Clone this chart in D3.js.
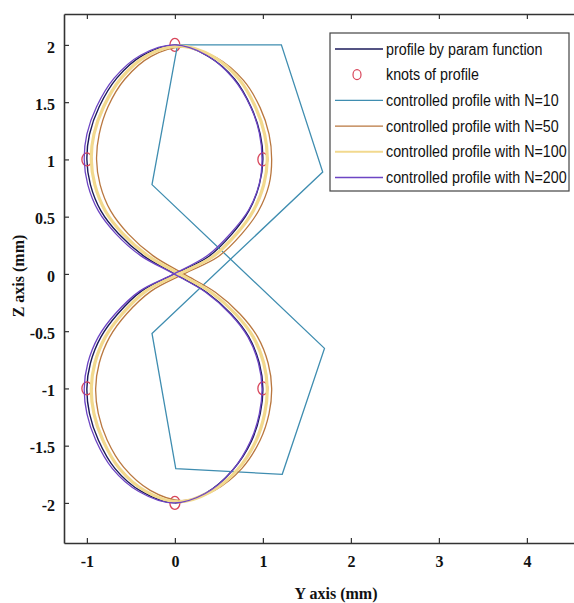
<!DOCTYPE html>
<html>
<head>
<meta charset="utf-8">
<script src="https://cdn.jsdelivr.net/npm/d3@7"></script>
<style>
  html, body { margin: 0; padding: 0; background: #fff; }
  svg { display: block; }
</style>
</head>
<body>
<svg id="chart" width="574" height="603"></svg>
<script>
// ---------------- DATA ----------------
const xTicks = [-1, 0, 1, 2, 3, 4];
const yTicks = [-2, -1.5, -1, -0.5, 0, 0.5, 1, 1.5, 2];
const xDomain = [-1.26, 4.615];
const yDomain = [-2.35, 2.27];

const seriesNames = [
  "profile by param function",
  "knots of profile",
  "controlled profile with N=10",
  "controlled profile with N=50",
  "controlled profile with N=100",
  "controlled profile with N=200"
];

// [Y, Z] pairs
const profile = [
  [0,0],[0.38,0.15],[0.65,0.35],[0.84,0.55],[0.96,0.78],[1.0,1.0],[0.97,1.22],[0.87,1.45],[0.68,1.70],[0.38,1.90],[0.02,2.0],
  [-0.36,1.91],[-0.66,1.71],[-0.86,1.46],[-0.97,1.22],[-1.0,1.0],[-0.96,0.78],[-0.84,0.55],[-0.64,0.35],[-0.36,0.16],
  [0,0],[0.36,-0.16],[0.64,-0.35],[0.84,-0.55],[0.96,-0.78],[1.0,-1.0],[0.97,-1.22],[0.87,-1.46],[0.66,-1.71],[0.36,-1.91],[0.0,-2.0],
  [-0.38,-1.90],[-0.68,-1.70],[-0.87,-1.45],[-0.97,-1.22],[-1.0,-1.0],[-0.96,-0.78],[-0.84,-0.55],[-0.65,-0.35],[-0.38,-0.15]
];

const knotsY = [0, 1, -1, -1, 1, 0];
const knotsZ = [2, 1, 1, -1, -1, -2];

const ctrlN10 = [
  [0.03,2.0],[1.21,2.0],[1.68,0.89],[-0.26,-0.52],[0.01,-1.70],[1.22,-1.75],[1.70,-0.65],[-0.26,0.78]
];

const ctrlN50 = [
  [0.10,0.0],[0.49,0.15],[0.76,0.35],[0.95,0.55],[1.07,0.78],[1.10,1.0],[1.07,1.22],[0.97,1.45],[0.78,1.69],[0.47,1.89],[0.10,1.98],
  [-0.27,1.90],[-0.57,1.70],[-0.76,1.46],[-0.86,1.22],[-0.89,1.0],[-0.85,0.78],[-0.73,0.55],[-0.53,0.35],[-0.25,0.16],
  [0.10,0.0],[0.46,-0.16],[0.74,-0.35],[0.94,-0.55],[1.06,-0.78],[1.10,-1.0],[1.07,-1.22],[0.97,-1.45],[0.76,-1.70],[0.45,-1.89],[0.08,-1.98],
  [-0.28,-1.89],[-0.58,-1.69],[-0.77,-1.45],[-0.87,-1.22],[-0.90,-1.0],[-0.86,-0.78],[-0.74,-0.55],[-0.55,-0.35],[-0.27,-0.15]
];

const ctrlN100 = [
  [0.05,0.0],[0.43,0.15],[0.70,0.35],[0.89,0.55],[1.01,0.78],[1.05,1.0],[1.02,1.22],[0.92,1.45],[0.73,1.70],[0.43,1.90],[0.06,1.99],
  [-0.31,1.91],[-0.61,1.71],[-0.81,1.46],[-0.92,1.22],[-0.95,1.0],[-0.91,0.78],[-0.79,0.55],[-0.59,0.35],[-0.31,0.16],
  [0.05,0.0],[0.41,-0.16],[0.69,-0.35],[0.89,-0.55],[1.01,-0.78],[1.05,-1.0],[1.02,-1.22],[0.92,-1.46],[0.71,-1.71],[0.41,-1.90],[0.04,-1.99],
  [-0.33,-1.90],[-0.63,-1.70],[-0.82,-1.45],[-0.92,-1.22],[-0.95,-1.0],[-0.91,-0.78],[-0.79,-0.55],[-0.60,-0.35],[-0.33,-0.15]
];

const ctrlN200 = [
  [-0.01,0.0],[0.37,0.16],[0.64,0.36],[0.84,0.56],[0.96,0.79],[0.99,1.0],[0.96,1.23],[0.86,1.46],[0.66,1.71],[0.36,1.91],[0.0,2.0],
  [-0.39,1.91],[-0.69,1.71],[-0.89,1.46],[-1.0,1.22],[-1.03,1.0],[-0.99,0.78],[-0.87,0.55],[-0.67,0.35],[-0.39,0.16],
  [-0.01,0.0],[0.35,-0.16],[0.63,-0.35],[0.83,-0.55],[0.95,-0.78],[0.99,-1.0],[0.96,-1.22],[0.86,-1.46],[0.65,-1.72],[0.34,-1.92],[-0.02,-2.0],
  [-0.41,-1.90],[-0.71,-1.70],[-0.90,-1.45],[-1.0,-1.22],[-1.03,-1.0],[-0.99,-0.78],[-0.87,-0.55],[-0.68,-0.35],[-0.40,-0.15]
];

const colors = {
  profile: "#1b1a5a",
  knots: "#d8455a",
  n10: "#3f8db0",
  n50: "#b9773f",
  n100: "#f2d98e",
  n200: "#6d45c4"
};

// ---------------- CHART ----------------
const svg = d3.select("#chart");
const plot = { left: 64, right: 581, top: 14, bottom: 543 };

const x = d3.scaleLinear().domain(xDomain).range([plot.left, plot.right]);
const y = d3.scaleLinear().domain(yDomain).range([plot.bottom, plot.top]);

const serif = "'Liberation Serif', 'Times New Roman', serif";
const sans = "'Liberation Sans', Arial, sans-serif";

// curves
const smooth = d3.line().x(d => x(d[0])).y(d => y(d[1])).curve(d3.curveCatmullRomClosed.alpha(0.5));
const poly = d3.line().x(d => x(d[0])).y(d => y(d[1])).curve(d3.curveLinearClosed);

const g = svg.append("g");

g.append("path").attr("d", smooth(profile)).attr("fill", "none")
  .attr("stroke", colors.profile).attr("stroke-width", 1.4);

g.selectAll("ellipse.knot").data(knotsY.map((v, i) => [v, knotsZ[i]])).enter()
  .append("ellipse").attr("class", "knot")
  .attr("cx", d => x(d[0])).attr("cy", d => y(d[1]))
  .attr("rx", 5).attr("ry", 6.5)
  .attr("fill", "none").attr("stroke", colors.knots).attr("stroke-width", 1.3);

g.append("path").attr("d", poly(ctrlN10)).attr("fill", "none")
  .attr("stroke", colors.n10).attr("stroke-width", 1.3);

g.append("path").attr("d", smooth(ctrlN50)).attr("fill", "none")
  .attr("stroke", colors.n50).attr("stroke-width", 1.3);

g.append("path").attr("d", smooth(ctrlN100)).attr("fill", "none")
  .attr("stroke", colors.n100).attr("stroke-width", 3.2);

g.append("path").attr("d", smooth(ctrlN200)).attr("fill", "none")
  .attr("stroke", colors.n200).attr("stroke-width", 1.3);

// axes
const fmt = d => String(d);
const axB = svg.append("g").attr("transform", `translate(0,${plot.bottom})`)
  .call(d3.axisBottom(x).tickValues(xTicks).tickFormat(fmt).tickSizeInner(-5).tickSizeOuter(0).tickPadding(13));
const axT = svg.append("g").attr("transform", `translate(0,${plot.top})`)
  .call(d3.axisTop(x).tickValues(xTicks).tickFormat("").tickSizeInner(-5).tickSizeOuter(0));
const axL = svg.append("g").attr("transform", `translate(${plot.left},0)`)
  .call(d3.axisLeft(y).tickValues(yTicks).tickFormat(fmt).tickSizeInner(-5).tickSizeOuter(0).tickPadding(9));

[axB, axT, axL].forEach(a => {
  a.select(".domain").attr("stroke", "#333").attr("stroke-width", 1.6);
  a.selectAll(".tick line").attr("stroke", "#333").attr("stroke-width", 1.2);
  a.selectAll(".tick text").attr("fill", "#111")
    .style("font-family", serif).style("font-weight", "bold").style("font-size", "16px");
});
axL.selectAll(".tick text").attr("dy", "0.45em");

// axis titles
svg.append("text").attr("x", 336).attr("y", 599).attr("text-anchor", "middle")
  .style("font-family", serif).style("font-weight", "bold").style("font-size", "16px").attr("fill", "#111")
  .text("Y axis (mm)");
svg.append("text").attr("transform", "translate(24,276) rotate(-90)").attr("text-anchor", "middle")
  .style("font-family", serif).style("font-weight", "bold").style("font-size", "16px").attr("fill", "#111")
  .text("Z axis (mm)");

// legend
const leg = svg.append("g");
leg.append("rect").attr("x", 330).attr("y", 33).attr("width", 239).attr("height", 158)
  .attr("fill", "#fff").attr("stroke", "#444").attr("stroke-width", 1.2);
const legColors = [colors.profile, colors.knots, colors.n10, colors.n50, colors.n100, colors.n200];
seriesNames.forEach((name, i) => {
  const cy = 49 + i * 25.7;
  if (i === 1) {
    leg.append("ellipse").attr("cx", 357).attr("cy", cy).attr("rx", 4).attr("ry", 5)
      .attr("fill", "none").attr("stroke", legColors[i]).attr("stroke-width", 1.2);
  } else {
    leg.append("line").attr("x1", 335).attr("x2", 383).attr("y1", cy).attr("y2", cy)
      .attr("stroke", legColors[i]).attr("stroke-width", i === 4 ? 2 : 1.3);
  }
  leg.append("text").attr("transform", `translate(386,${cy}) scale(1,1.12)`).attr("dy", "0.35em")
    .style("font-family", sans).style("font-size", "14.3px").attr("fill", "#111")
    .text(name);
});
</script>
</body>
</html>
